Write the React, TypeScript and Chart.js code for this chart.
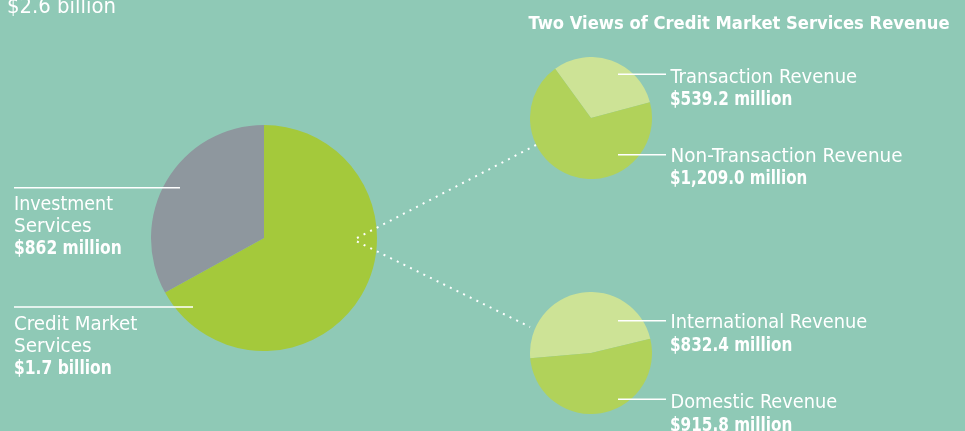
import React, { useEffect, useRef } from "react";
import { Chart, registerables } from "chart.js";

Chart.register(...registerables);

// ---- data ----
const segmentLabels = ["Credit Market Services", "Investment Services"];
const segmentValues = [1748.2, 862];
const transactionLabels = ["Transaction Revenue", "Non-Transaction Revenue"];
const transactionValues = [539.2, 1209.0];
const geographyLabels = ["International Revenue", "Domestic Revenue"];
const geographyValues = [832.4, 915.8];

const totalLabel = "$2.6 billion";
const titleText = "Two Views of Credit Market Services Revenue";

const BG = "#8fc9b6";
const FONT = "'DejaVu Sans Condensed', 'Liberation Sans Narrow', Roboto, sans-serif";

type PieProps = {
  labels: string[];
  values: number[];
  colors: string[];
  rotation: number;
  left: number;
  top: number;
  size: number;
};

function PieCanvas({ labels, values, colors, rotation, left, top, size }: PieProps) {
  const ref = useRef<HTMLCanvasElement | null>(null);
  useEffect(() => {
    if (!ref.current) return;
    const chart = new Chart(ref.current, {
      type: "pie",
      data: {
        labels,
        datasets: [
          {
            data: values,
            backgroundColor: colors,
            borderWidth: 0,
            hoverOffset: 0,
            offset: 0,
          },
        ],
      },
      options: {
        responsive: false,
        animation: false,
        rotation,
        layout: { padding: 0 },
        plugins: {
          legend: { display: false },
          tooltip: { enabled: false },
          title: { display: false },
        },
        events: [],
      },
    });
    return () => chart.destroy();
  }, []);
  return (
    <canvas
      ref={ref}
      width={size}
      height={size}
      style={{ position: "absolute", left, top, width: size, height: size }}
    />
  );
}

type TProps = { x: number; y: number; w: number; b?: boolean; size?: number; children: string };

function T({ x, y, w, b, size, children }: TProps) {
  return (
    <text
      x={x}
      y={y}
      textLength={w}
      lengthAdjust="spacingAndGlyphs"
      fill="#ffffff"
      style={{
        fontFamily: FONT,
        fontSize: size ?? 20,
        fontWeight: b ? 700 : 400,
      }}
    >
      {children}
    </text>
  );
}

export default function App() {
  useEffect(() => {
    document.body.style.margin = "0";
    document.body.style.background = BG;
  }, []);

  const lineStyle = { stroke: "#ffffff", strokeWidth: 1.6 } as any;
  const dotStyle = { stroke: "#ffffff", strokeWidth: 2, strokeDasharray: "2 5.4" } as any;

  return (
    <div
      style={{
        position: "relative",
        width: 965,
        height: 431,
        overflow: "hidden",
        background: BG,
      }}
    >
      <PieCanvas
        labels={segmentLabels}
        values={segmentValues}
        colors={["#a4c93b", "#8e979e"]}
        rotation={0}
        left={151}
        top={125}
        size={226}
      />
      <PieCanvas
        labels={transactionLabels}
        values={transactionValues}
        colors={["#cde396", "#b1d25a"]}
        rotation={-36}
        left={530}
        top={57}
        size={122}
      />
      <PieCanvas
        labels={geographyLabels}
        values={geographyValues}
        colors={["#cde396", "#b1d25a"]}
        rotation={-95}
        left={530}
        top={292}
        size={122}
      />
      <svg
        width={965}
        height={431}
        style={{ position: "absolute", left: 0, top: 0, pointerEvents: "none" }}
      >
        {/* dotted connectors */}
        <line x1={357} y1={238} x2={536} y2={145} style={dotStyle} />
        <line x1={357} y1={241.5} x2={530} y2={327} style={dotStyle} />

        {/* top-left total */}
        <T x={7} y={12.5} w={109} size={21}>{totalLabel}</T>

        {/* left labels */}
        <line x1={14} y1={187.7} x2={180} y2={187.7} style={lineStyle} />
        <T x={14} y={210} w={99}>Investment</T>
        <T x={14} y={231.7} w={77.7}>Services</T>
        <T x={14} y={253.5} w={107.7} b>$862 million</T>

        <line x1={14} y1={307} x2={193} y2={307} style={lineStyle} />
        <T x={14} y={330} w={123.3}>Credit Market</T>
        <T x={14} y={352.3} w={77.7}>Services</T>
        <T x={14} y={374.3} w={97.7} b>$1.7 billion</T>

        {/* title */}
        <T x={528.5} y={29.3} w={421} b size={18.5}>{titleText}</T>

        {/* top-right pie labels */}
        <line x1={618} y1={74.3} x2={666} y2={74.3} style={lineStyle} />
        <T x={670.5} y={82.5} w={186.7}>Transaction Revenue</T>
        <T x={670} y={105} w={122.3} b>$539.2 million</T>

        <line x1={618} y1={154.7} x2={666} y2={154.7} style={lineStyle} />
        <T x={670.5} y={161.7} w={232}>Non-Transaction Revenue</T>
        <T x={670} y={184} w={137.3} b>$1,209.0 million</T>

        {/* bottom-right pie labels */}
        <line x1={618} y1={320.7} x2={666} y2={320.7} style={lineStyle} />
        <T x={670.5} y={327.7} w={196.7}>International Revenue</T>
        <T x={670} y={351} w={122.3} b>$832.4 million</T>

        <line x1={618} y1={399.3} x2={666} y2={399.3} style={lineStyle} />
        <T x={670.5} y={407.7} w={166.7}>Domestic Revenue</T>
        <T x={670} y={431} w={122.3} b>$915.8 million</T>
      </svg>
    </div>
  );
}
